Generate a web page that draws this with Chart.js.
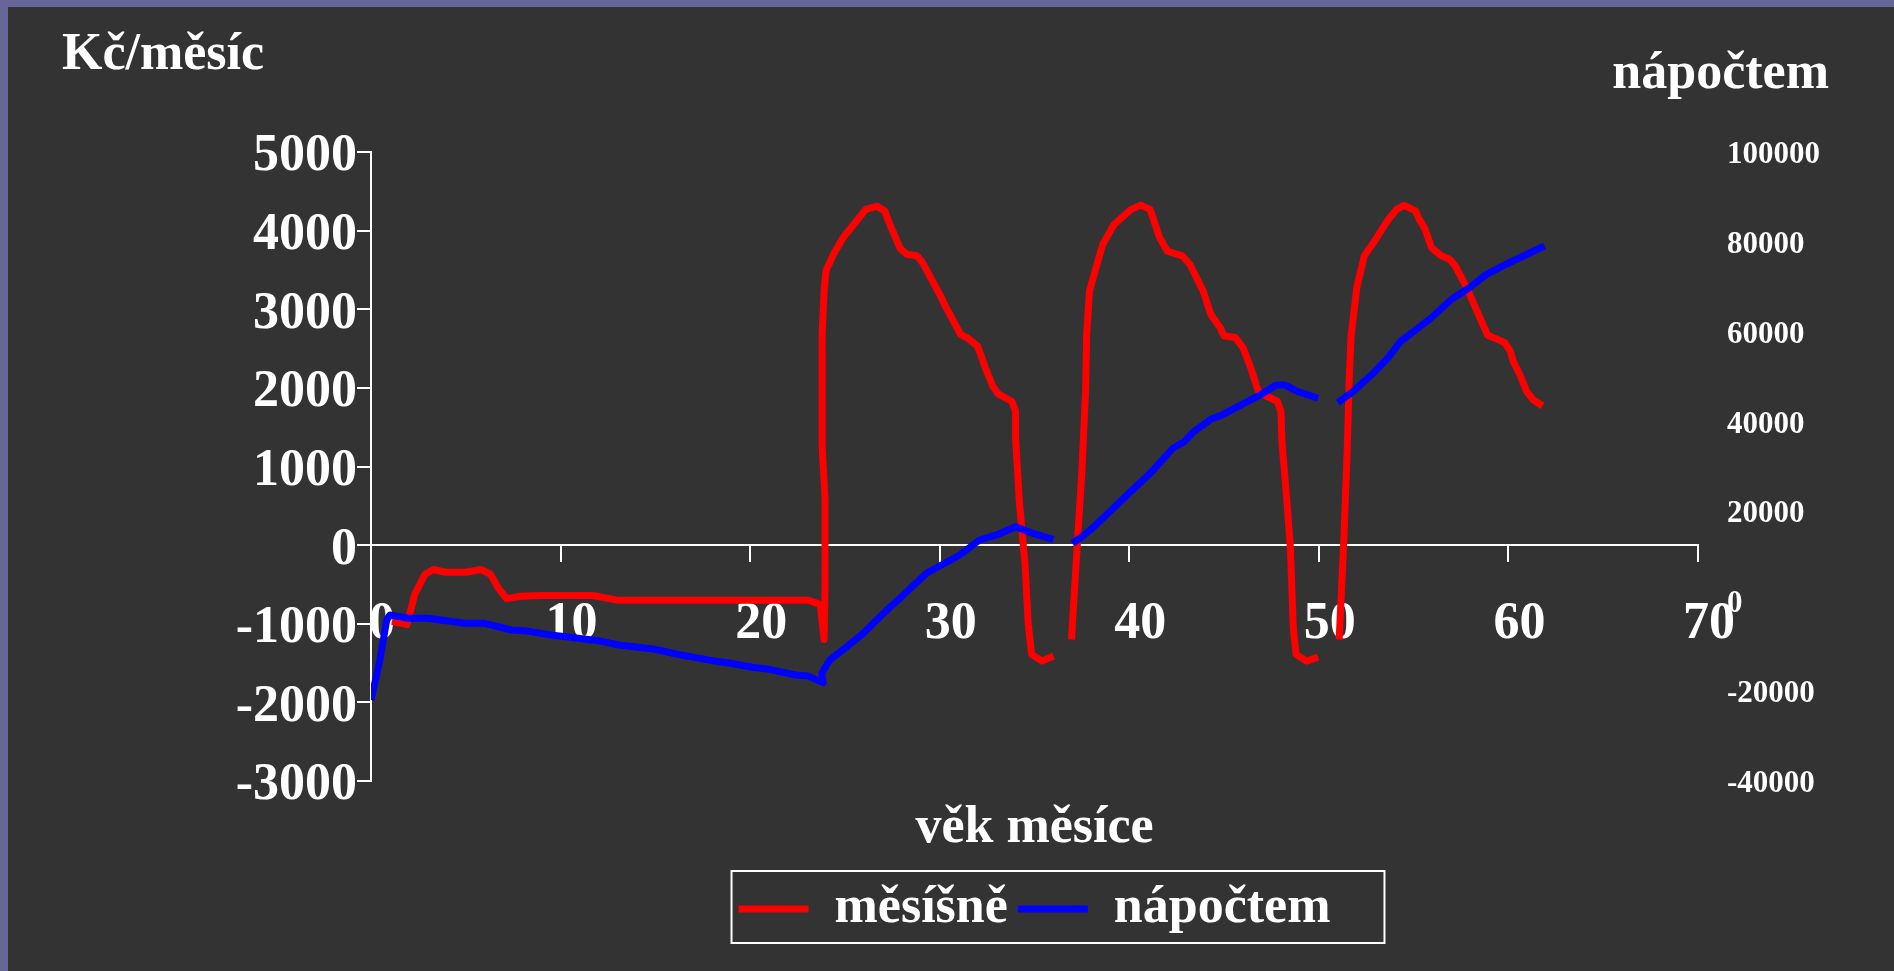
<!DOCTYPE html>
<html lang="cs">
<head>
<meta charset="utf-8">
<title>Kč/měsíc a nápočtem podle věku</title>
<script src="https://cdn.jsdelivr.net/npm/chart.js@4.4.1/dist/chart.umd.min.js"></script>
<style>
  html, body { margin: 0; padding: 0; width: 1894px; height: 971px; overflow: hidden; background: #666699; }
  #frame { position: absolute; left: 8px; top: 7px; width: 1886px; height: 964px; background: #333333; }
  canvas { display: block; }
</style>
</head>
<body>
<div id="frame"><canvas id="chart" width="1886" height="964"></canvas></div>
<script>
// Monthly amount (Kč/měsíc) by age in months; null breaks the line between periods
const monthsMonthly = [
  1.1, 1.9, 2.3, 2.85, 3.3, 3.95, 5.0, 5.8, 6.3, 6.7, 7.15, 7.9, 9.0, 11.7, 13.0, 23.05, 23.7, 23.9,
  23.95, 23.95, 23.8, 23.8, 23.9, 24.0, 24.4, 24.9, 25.6, 26.1, 26.7, 27.1, 27.4, 27.9, 28.25, 28.8,
  29.1, 30.0, 30.3, 31.1, 31.5, 32.0, 32.4, 32.8, 33.1, 33.8, 34.0, 34.0, 34.2, 34.5, 34.67, 34.85,
  35.4, 36.0,
  36.5,
  36.95, 37.3, 37.5, 37.7, 37.75, 37.9, 38.2, 38.6, 39.2, 40.1, 40.6, 41.1, 41.6, 42.0, 42.5, 42.8,
  43.2, 43.9, 44.3, 44.8, 45.0, 45.6, 46.0, 46.4, 46.8, 47.2, 47.8, 48.0, 48.05, 48.3, 48.5, 48.65,
  48.8, 49.35, 49.96,
  50.5,
  51.07, 51.3, 51.5, 51.6, 51.7, 51.9, 52.0, 52.4, 52.95, 53.6, 54.1, 54.5, 55.1, 55.25, 55.6, 55.95,
  56.4, 56.9, 57.2, 57.8, 58.5, 58.9, 59.4, 59.8, 60.1, 60.25, 60.6, 60.95, 61.3, 61.8
];
const valuesMonthly = [
  -970, -1010, -630, -370, -310, -345, -345, -310, -370, -540, -680, -650, -640, -640, -700, -700, -755, -1200,
  -540, 600, 1240, 2680, 3230, 3490, 3700, 3910, 4120, 4270, 4310, 4250, 4060, 3780, 3700, 3680,
  3590, 3190, 3040, 2680, 2630, 2530, 2260, 2020, 1920, 1830, 1705, 1365, 560, -245, -1010, -1390,
  -1475, -1410,
  null,
  -1200, 180, 940, 2000, 2680, 3230, 3490, 3825, 4080, 4270, 4325, 4270, 3910, 3740, 3700, 3680,
  3570, 3230, 2935, 2765, 2660, 2640, 2510, 2260, 1960, 1900, 1830, 1705, 1320, 600, -35, -1050,
  -1390, -1475, -1425,
  null,
  -1200, -35, 1240, 2090, 2660, 3060, 3275, 3680, 3870, 4120, 4270, 4320, 4250, 4165, 4020, 3780,
  3690, 3635, 3550, 3275, 2890, 2670, 2620, 2575, 2470, 2340, 2170, 1960, 1850, 1770
];

// Running total (nápočtem) on the right axis
const monthsRunning = [
  0, 0.47, 0.83, 1.0, 1.97, 3.0, 4.96, 6.0, 7.4, 8.1, 9.5, 12.0, 13.05, 15.0, 16.1, 18.0, 19.0, 20.1,
  21.0, 22.4, 23.05, 23.85, 23.78, 24.2, 25.1, 25.97, 26.5, 27.4, 27.9, 29.3, 31.06, 32.1, 33.0, 34.0,
  34.9, 36.0,
  36.5,
  37.0, 37.4, 38.05, 39.0, 39.95, 41.1, 42.3, 42.9, 43.4, 44.3, 44.9, 46.0, 46.9, 47.75, 48.2, 48.9, 49.96,
  50.5,
  51.0, 51.8, 52.9, 53.7, 54.3, 55.1, 55.9, 57.0, 57.9, 58.8, 59.9, 60.8, 61.9
];
const valuesRunning = [
  -21970, -13070, -4160, -3050, -3780, -3780, -4900, -4900, -6390, -6540, -7500, -8770, -9730, -10690, -11730, -13220, -13800, -14690,
  -15140, -16400, -16630, -18100, -16000, -13070, -10110, -7120, -4900, -1200, 670, 6230, 10300, 13640, 14760, 16600,
  15140, 13800,
  null,
  12910, 14020, 16250, 20100, 23900, 28490, 34060, 35530, 37750, 40510, 41470, 43920, 45920, 48150, 48150, 46660, 45190,
  null,
  44210, 46660, 50890, 54450, 57790, 60390, 62990, 67220, 69670, 72630, 75080, 76860, 79090
];

// Axis tick values
const ageTicks = [0, 10, 20, 30, 40, 50, 60, 70];
const monthlyTicks = [-3000, -2000, -1000, 0, 1000, 2000, 3000, 4000, 5000];
const runningTicks = [-40000, -20000, 0, 20000, 40000, 60000, 80000, 100000];

const seriesNames = ['měsíšně', 'nápočtem'];
const seriesColors = ['#ff0000', '#0000ff'];

const toPoints = (xs, ys) => xs.map((x, i) => ({ x: x, y: ys[i] }));
const first = a => a[0];
const last = a => a[a.length - 1];
const step = a => a[1] - a[0];

Chart.defaults.font.family = "'Liberation Serif', 'Times New Roman', serif";
Chart.defaults.font.weight = 'bold';
Chart.defaults.color = '#ffffff';

// Frame around the legend row
const legendFrame = {
  id: 'legendFrame',
  afterDraw(chart) {
    const lg = chart.legend;
    if (!lg || !lg.legendHitBoxes || !lg.legendHitBoxes.length) return;
    const hb = lg.legendHitBoxes;
    const a = hb[0], b = hb[hb.length - 1];
    const left = a.left - 7, right = b.left + b.width + 54;
    const top = a.top - 12, bottom = a.top + 60;
    const ctx = chart.ctx;
    ctx.save();
    ctx.strokeStyle = '#ffffff';
    ctx.lineWidth = 2;
    ctx.strokeRect(left, top, right - left, bottom - top);
    ctx.restore();
  }
};

const bigFont = { size: 52, weight: 'bold' };

new Chart(document.getElementById('chart'), {
  type: 'line',
  data: {
    datasets: [
      {
        label: seriesNames[0],
        data: toPoints(monthsMonthly, valuesMonthly),
        xAxisID: 'x', yAxisID: 'y',
        borderColor: seriesColors[0], backgroundColor: seriesColors[0],
        borderWidth: 7, pointRadius: 0, tension: 0, spanGaps: false,
        borderJoinStyle: 'round', order: 1
      },
      {
        label: seriesNames[1],
        data: toPoints(monthsRunning, valuesRunning),
        xAxisID: 'x', yAxisID: 'y1',
        borderColor: seriesColors[1], backgroundColor: seriesColors[1],
        borderWidth: 7, pointRadius: 0, tension: 0, spanGaps: false,
        borderJoinStyle: 'round', order: 0
      }
    ]
  },
  options: {
    responsive: false,
    animation: false,
    events: [],
    layout: { padding: { top: 0, left: 54, right: 65, bottom: 26 } },
    scales: {
      x: {
        type: 'linear',
        position: { y: 0 },
        min: first(ageTicks), max: last(ageTicks),
        ticks: {
          stepSize: step(ageTicks), autoSkip: false, maxRotation: 0,
          padding: 32, labelOffset: 11, font: bigFont, color: '#ffffff',
          callback: v => String(v)
        },
        grid: { drawOnChartArea: false, drawTicks: true, tickLength: 16, color: '#ffffff', lineWidth: 2 },
        border: { display: true, color: '#ffffff', width: 2 }
      },
      xTitle: {
        type: 'linear',
        position: 'bottom',
        min: first(ageTicks), max: last(ageTicks),
        ticks: { display: false },
        grid: { display: false, drawTicks: false },
        border: { display: false },
        title: {
          display: true, text: 'věk měsíce', color: '#ffffff', font: bigFont,
          padding: { top: 16.3, bottom: 13.3 }
        }
      },
      y: {
        position: 'left',
        min: first(monthlyTicks), max: last(monthlyTicks),
        ticks: {
          stepSize: step(monthlyTicks), padding: 0, labelOffset: 5,
          font: bigFont, color: '#ffffff', callback: v => String(v)
        },
        grid: { drawOnChartArea: false, drawTicks: true, tickLength: 14, color: '#ffffff', lineWidth: 2 },
        border: { display: true, color: '#ffffff', width: 2 },
        afterFit(scale) { scale.width = 309; }
      },
      y1: {
        position: 'right',
        min: first(runningTicks), max: last(runningTicks),
        ticks: {
          stepSize: step(runningTicks), padding: 29, labelOffset: 3, crossAlign: 'near',
          font: { size: 31, weight: 'bold' }, color: '#ffffff', callback: v => String(v)
        },
        grid: { display: false, drawTicks: false },
        border: { display: false },
        afterFit(scale) { scale.width = 131; }
      }
    },
    plugins: {
      title: {
        display: true, text: 'Kč/měsíc', align: 'start', color: '#ffffff',
        font: { size: 52, weight: 'bold', lineHeight: 0.36 },
        padding: { top: 39.64, bottom: 0 }
      },
      subtitle: {
        display: true, text: 'nápočtem', align: 'end', color: '#ffffff',
        font: { size: 52, weight: 'bold', lineHeight: 0.36 },
        padding: { top: 0, bottom: 67.92 }
      },
      legend: {
        position: 'bottom',
        fullSize: false,
        align: 'center',
        labels: {
          boxWidth: 70, boxHeight: 7, padding: 10, color: '#ffffff', font: bigFont,
          sort: (a, b) => a.datasetIndex - b.datasetIndex,
          generateLabels: chart => Chart.defaults.plugins.legend.labels.generateLabels(chart)
            .map(item => Object.assign(item, { lineWidth: 0 }))
        }
      },
      tooltip: { enabled: false }
    }
  },
  plugins: [legendFrame]
});
</script>
</body>
</html>
